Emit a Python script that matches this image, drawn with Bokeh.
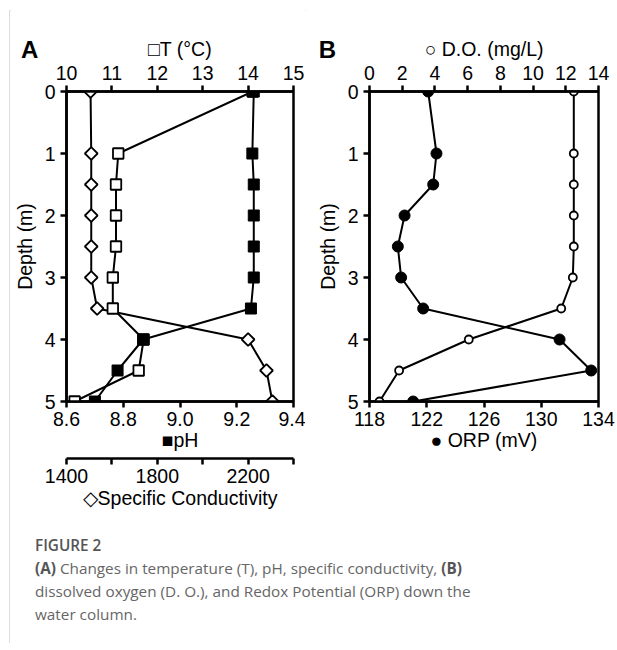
import numpy as np
from bokeh.plotting import figure
from bokeh.models import Range1d, LinearAxis, FixedTicker, NumeralTickFormatter, Label, Div
from bokeh.layouts import row, column
from bokeh.embed import file_html
from bokeh.resources import INLINE

# ---- data ----
depth_m = [0, 1, 1.5, 2, 2.5, 3, 3.5, 4, 4.5, 5]
temp_c = [14.1, 11.14, 11.09, 11.09, 11.09, 11.02, 11.02, 11.70, 11.59, 10.18]
ph_vals = [9.26, 9.255, 9.26, 9.26, 9.26, 9.26, 9.25, 8.87, 8.78, 8.70]
spec_cond = [1506, 1509, 1509, 1509, 1509, 1509, 1535, 2200, 2281, 2307]
do_mgl = [12.49, 12.49, 12.49, 12.49, 12.49, 12.43, 11.72, 6.07, 1.81, 0.61]
orp_mv = [122.1, 122.68, 122.45, 120.45, 119.98, 120.21, 121.75, 131.28, 133.49, 121.05]

depth_ticks = [0, 1, 2, 3, 4, 5]
temp_ticks = [10, 11, 12, 13, 14, 15]
ph_ticks = [8.6, 8.8, 9.0, 9.2, 9.4]
cond_major = [1400, 1800, 2200]
cond_minor = [1600, 2000, 2400]
do_ticks = [0, 2, 4, 6, 8, 10, 12, 14]
orp_ticks = [118, 122, 126, 130, 134]

FONT = "Liberation Sans"
FS = "19.5px"
LW = 2.5
FIG_H = 516


def style_axis(ax, label, tick_standoff=5, label_standoff=2):
    ax.axis_label = label
    ax.axis_label_text_font = FONT
    ax.axis_label_text_font_size = FS
    ax.axis_label_text_font_style = "normal"
    ax.axis_label_text_color = "black"
    ax.axis_label_standoff = label_standoff
    ax.major_label_text_font = FONT
    ax.major_label_text_font_size = FS
    ax.major_label_text_color = "black"
    ax.major_label_standoff = tick_standoff
    ax.axis_line_width = LW
    ax.axis_line_color = "black"
    ax.major_tick_line_width = LW
    ax.major_tick_line_color = "black"
    ax.major_tick_in = 0
    ax.major_tick_out = 6
    ax.minor_tick_line_width = LW
    ax.minor_tick_line_color = "black"
    ax.minor_tick_in = 0
    ax.minor_tick_out = 6


def base_fig(width, x_range, border_left, border_right):
    p = figure(width=width, height=FIG_H, x_range=x_range, y_range=Range1d(5, 0),
               x_axis_location="above", output_backend="svg", toolbar_location=None,
               min_border_left=border_left, min_border_right=border_right,
               min_border_top=82, min_border_bottom=122)
    p.grid.visible = False
    p.outline_line_color = "black"
    p.outline_line_width = LW
    p.outline_line_alpha = 1
    p.background_fill_color = "white"
    p.border_fill_color = "white"
    yax = p.yaxis[0]
    yax.ticker = FixedTicker(ticks=depth_ticks)
    style_axis(yax, "Depth (m)", tick_standoff=5, label_standoff=6)
    return p


def panel_letter(p, letter, x, y):
    lab = Label(x=x, y=y, text=letter, text_font=FONT, text_font_size="24px",
                text_font_style="bold", text_align="center", text_baseline="middle",
                text_color="black")
    p.add_layout(lab, "above")


# ---------------- Panel A ----------------
pA = base_fig(295, Range1d(10, 15), 54, 12)
pA.extra_x_ranges = {"ph": Range1d(8.6, 9.4), "cond": Range1d(1400, 2400)}

tax = pA.xaxis[0]
tax.ticker = FixedTicker(ticks=temp_ticks)
style_axis(tax, "□T (°C)", tick_standoff=6, label_standoff=3)

ph_ax = LinearAxis(x_range_name="ph", ticker=FixedTicker(ticks=ph_ticks),
                   formatter=NumeralTickFormatter(format="0.0"))
style_axis(ph_ax, "■pH", tick_standoff=4, label_standoff=0)
pA.add_layout(ph_ax, "below")

# invisible spacer between the two bottom axes
gap_ax = LinearAxis(x_range_name="ph", ticker=FixedTicker(ticks=[9.0]),
                    major_label_overrides={9.0: ""})
gap_ax.axis_line_color = None
gap_ax.major_tick_line_color = None
gap_ax.minor_tick_line_color = None
gap_ax.major_tick_in = 0
gap_ax.major_tick_out = 5
gap_ax.minor_tick_in = 0
gap_ax.minor_tick_out = 0
gap_ax.major_label_standoff = 0
gap_ax.major_label_text_font_size = "1px"
pA.add_layout(gap_ax, "below")

cond_ax = LinearAxis(x_range_name="cond", ticker=FixedTicker(ticks=cond_major, minor_ticks=cond_minor))
style_axis(cond_ax, "◇Specific Conductivity", tick_standoff=4, label_standoff=1)
pA.add_layout(cond_ax, "below")

pA.line(spec_cond, depth_m, x_range_name="cond", line_color="black", line_width=2)
pA.line(temp_c, depth_m, line_color="black", line_width=2)
pA.line(ph_vals, depth_m, x_range_name="ph", line_color="black", line_width=2)

pA.scatter(spec_cond, depth_m, x_range_name="cond", marker="square", angle=np.pi / 4,
           size=9, fill_color="white", line_color="black", line_width=1.8)
pA.scatter(temp_c, depth_m, marker="square", size=10.5, fill_color="white",
           line_color="black", line_width=1.8)
pA.scatter(ph_vals, depth_m, x_range_name="ph", marker="square", size=11,
           fill_color="black", line_color="black", line_width=1)

panel_letter(pA, "A", 9.19, -0.68)

# ---------------- Panel B ----------------
pB = base_fig(312, Range1d(0, 14), 64, 19)
pB.extra_x_ranges = {"orp": Range1d(118, 134)}

dax = pB.xaxis[0]
dax.ticker = FixedTicker(ticks=do_ticks)
style_axis(dax, "○ D.O. (mg/L)", tick_standoff=6, label_standoff=3)

orp_ax = LinearAxis(x_range_name="orp", ticker=FixedTicker(ticks=orp_ticks))
style_axis(orp_ax, "● ORP (mV)", tick_standoff=4, label_standoff=0)
pB.add_layout(orp_ax, "below")

pB.line(do_mgl, depth_m, line_color="black", line_width=2)
pB.line(orp_mv, depth_m, x_range_name="orp", line_color="black", line_width=2)
pB.scatter(do_mgl, depth_m, marker="circle", size=8, fill_color="white",
           line_color="black", line_width=1.8)
pB.scatter(orp_mv, depth_m, x_range_name="orp", marker="circle", size=11,
           fill_color="black", line_color="black", line_width=1)

panel_letter(pB, "B", -2.57, -0.68)

# ---------------- Caption ----------------
cap_html = (
    '<div style="font-family: \'Open Sans\', sans-serif; padding: 6px 0 0 20px; color:#666;">'
    '<div style="font-size:15.3px; font-weight:600; color:#555; line-height:23px;">FIGURE 2</div>'
    '<div style="font-size:15.3px; line-height:23px;">'
    '<b style="color:#555;">(A)</b> Changes in temperature (T), pH, specific conductivity, '
    '<b style="color:#555;">(B)</b><br>dissolved oxygen (D. O.), and Redox Potential (ORP) down the<br>'
    'water column.</div></div>'
)
cap = Div(text=cap_html, width=606, height=110)

plots = row(pA, pB, margin=(-4, 0, 0, 0))
layout = column(plots, cap, margin=(10, 0, 0, 9),
                styles={"border-top": "1px solid #dcdcdc", "border-left": "1px solid #dcdcdc"})

open("out.html", "w").write(file_html(layout, INLINE))
